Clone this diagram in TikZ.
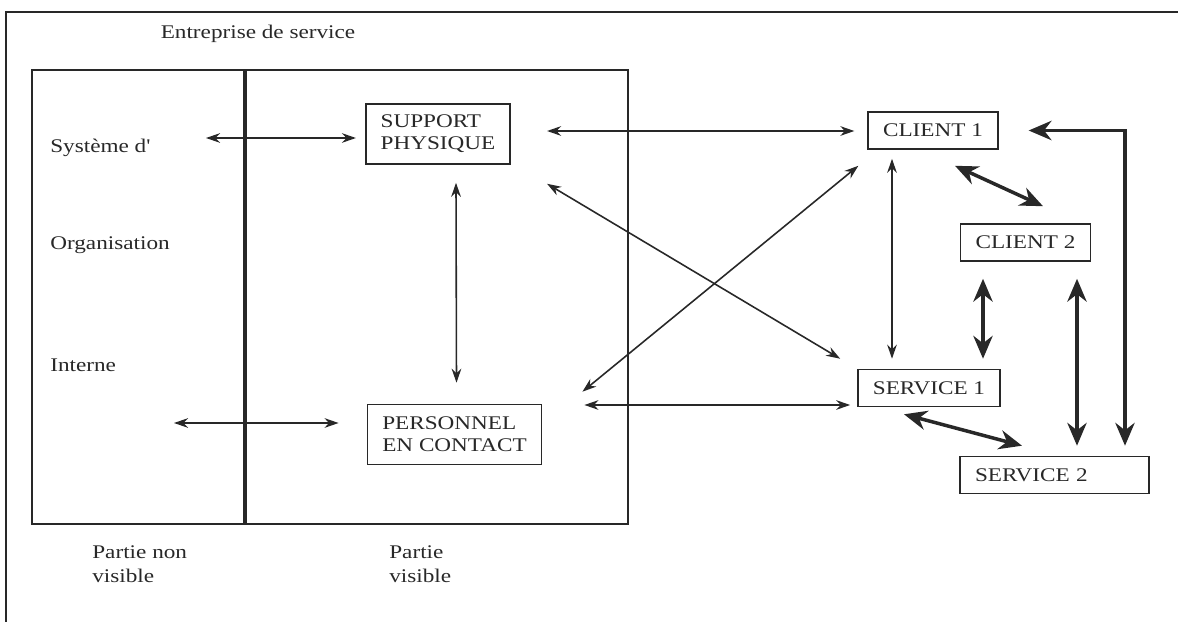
\documentclass[tikz,border=0pt]{standalone}
\usepackage{fontspec}
\setmainfont{Liberation Serif}[FakeStretch=1.2]
\usepackage{tikz}
\usetikzlibrary{calc,arrows.meta}
\definecolor{ink}{RGB}{40,40,40}

\begin{document}
\begin{tikzpicture}[x=0.02cm,y=-0.02cm,
    lbl/.style={font=\fontsize{11}{14}\selectfont,text=ink,inner sep=0pt,align=left},
    box/.style={draw=ink,line width=0.9pt,font=\fontsize{11}{12.5}\selectfont,text=ink,
      align=left,inner xsep=8.5pt,inner ysep=0pt},
    onebox/.style={box,minimum height=0.74cm},
    twobox/.style={box,minimum height=1.2cm},
    tarr/.style={{Stealth[length=8pt,width=5.5pt]}-{Stealth[length=8pt,width=5.5pt]},line width=0.9pt,ink},
    barr/.style={{Stealth[length=13pt,width=11pt]}-{Stealth[length=13pt,width=11pt]},line width=2pt,ink}]
    \useasboundingbox (0,0) rectangle (1178,622);
    \draw[ink,line width=1.3pt] (6,622) -- (6,12) -- (1178,12);
    \draw[ink,line width=0.9pt] (32,70) rectangle (628,524);
    \draw[ink,line width=1.8pt] (245,70) -- (245,524);
    \node[lbl] (title) at (258,34) {Entreprise de service};
    \node[lbl,anchor=west] (sys) at (50,148) {Système d\textquotesingle};
    \node[lbl,anchor=west] (org) at (50,245) {Organisation};
    \node[lbl,anchor=west] (int) at (50,365) {Interne};
    \node[lbl,anchor=west] (nonvis) at (92,564) {Partie non\\visible};
    \node[lbl,anchor=west] (vis) at (389,564) {Partie\\visible};
    \node[twobox] (sup) at (438,134) {SUPPORT\\PHYSIQUE};
    \node[twobox] (per) at (454.5,434.5) {PERSONNEL\\EN CONTACT};
    \node[onebox] (cl1) at (933,130.5) {CLIENT 1};
    \node[onebox] (cl2) at (1025.5,242.5) {CLIENT 2};
    \node[onebox] (sv1) at (929,388) {SERVICE 1};
    \node[onebox,text width=3.18cm] (sv2) at (1054.5,475) {SERVICE 2};
    \coordinate (sysR) at (206,138);
    \coordinate (intR) at (174,423);
    \draw[tarr] (sysR) -- ($(sup.west)+(-9,4)$);
    \draw[tarr] (intR) -- ($(per.west)+(-28,-11.5)$);
    \draw[tarr] ($(sup.south)+(18,18)$) -- ($(per.north)+(2,-21)$);
    \draw[tarr] ($(sup.east)+(36,-3)$) -- ($(cl1.west)+(-13,0.5)$);
    \draw[tarr] ($(sup.south east)+(36,19)$) -- ($(sv1.north west)+(-17,-10)$);
    \draw[tarr] ($(per.north east)+(40,-12)$) -- ($(cl1.south west)+(-9,16)$);
    \draw[tarr] ($(per.east)+(42,-29.5)$) -- ($(sv1.west)+(-7,17)$);
    \draw[tarr] ($(cl1.south)+(-41,9)$) -- ($(sv1.north)+(-37,-10)$);
    \draw[barr] ($(cl1.south)+(22,16)$) -- ($(cl2.north)+(17.5,-17)$);
    \draw[barr] ($(cl2.south)+(-42.5,17)$) -- ($(sv1.north)+(54,-10)$);
    \draw[barr] ($(cl2.south)+(51.5,17)$) -- ($(sv2.north)+(22.5,-10)$);
    \draw[barr] ($(sv1.south)+(-25,7)$) -- ($(sv2.north)+(-32.5,-10)$);
    \draw[barr] ($(sv2.north)+(70.5,-10)$) |- ($(cl1.east)+(30,0)$);
\end{tikzpicture}
\end{document}
